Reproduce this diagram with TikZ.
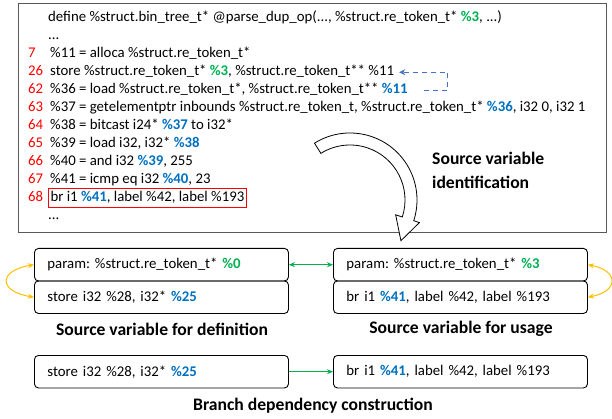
\documentclass[tikz,border=0pt]{standalone}
\usepackage{fontspec}
\setmainfont{Carlito}
\usetikzlibrary{calc,arrows.meta}
\definecolor{cred}{HTML}{FF0000}
\definecolor{cgreen}{HTML}{00B050}
\definecolor{cblue}{HTML}{0070C0}
\definecolor{cdash}{HTML}{4472C4}
\definecolor{cyel}{HTML}{FFC000}
\definecolor{cframe}{HTML}{595959}
\newcommand\grn[1]{\textcolor{cgreen}{\textbf{#1}}}
\newcommand\blu[1]{\textcolor{cblue}{\textbf{#1}}}
\newcommand\codefont{\fontsize{14.8}{18}\selectfont}
\frenchspacing
\begin{document}
\begin{tikzpicture}[x=1pt,y=-1pt,
  code/.style={anchor=base west,inner xsep=2,inner ysep=2.75,text height=10,text depth=3.5,font=\codefont},
  lno/.style={anchor=base west,inner sep=0,text=cred,font=\codefont},
  rbox/.style={draw,rounded corners=4,line width=0.9,minimum width=254,minimum height=32.5,text width=228,inner xsep=13,align=left,anchor=north west,font=\codefont},
  captxt/.style={font=\fontsize{17.6}{24}\selectfont\bfseries},
  garrow/.style={cgreen,line width=0.9,-{Stealth[length=6,width=5]}},
  yarrow/.style={cyel,line width=1,{Stealth[length=6,width=5]}-{Stealth[length=6,width=5]}}]
\useasboundingbox (0,0) rectangle (612,419);
\node[draw=cframe,line width=1.1,minimum width=588,minimum height=229,anchor=north west,inner sep=0] (codebox) at (18,3) {};
% code lines
\node[code] (l0) at (46,21.5) {define \%struct.bin\_tree\_t* @parse\_dup\_op(..., \%struct.re\_token\_t* \grn{\%3}, ...)};
\node[code] (l1) at (46,39.5) {...};
\node[lno] (n7) at (28,57.5) {7};
\node[code] (l7) at (48,57.5) {\%11 = alloca \%struct.re\_token\_t*};
\node[lno] (n26) at (28,75.5) {26};
\node[code] (l26) at (48,75.5) {store \%struct.re\_token\_t* \grn{\%3}, \%struct.re\_token\_t** \%11};
\node[lno] (n62) at (28,93.5) {62};
\node[code] (l62) at (48,93.5) {\%36 = load \%struct.re\_token\_t*, \%struct.re\_token\_t** \blu{\%11}};
\node[lno] (n63) at (28,111.5) {63};
\node[code] (l63) at (48,111.5) {\%37 = getelementptr inbounds \%struct.re\_token\_t, \%struct.re\_token\_t* \blu{\%36}, i32 0, i32 1};
\node[lno] (n64) at (28,129.5) {64};
\node[code] (l64) at (48,129.5) {\%38 = bitcast i24* \blu{\%37} to i32*};
\node[lno] (n65) at (28,147.5) {65};
\node[code] (l65) at (48,147.5) {\%39 = load i32, i32* \blu{\%38}};
\node[lno] (n66) at (28,165.5) {66};
\node[code] (l66) at (48,165.5) {\%40 = and i32 \blu{\%39}, 255};
\node[lno] (n67) at (28,183.5) {67};
\node[code] (l67) at (48,183.5) {\%41 = icmp eq i32 \blu{\%40}, 23};
\node[lno] (n68) at (28,201.5) {68};
\node[code,draw=cred,line width=1] (l68) at (48,201.5) {br i1 \blu{\%41}, label \%42, label \%193};
\node[code] (l69) at (46,219.5) {...};
% dashed arrow
\draw[cdash,line width=1.1,dash pattern=on 5 off 4,-{Stealth[length=6,width=6]}] ([xshift=14]l62.east) -| ([xshift=38]l62.east |- l26.east) -- ([xshift=3]l26.east);
% label
\node[captxt,anchor=west,align=left,inner sep=0] (sid) at (432,170) {Source variable\\identification};
% lower boxes
\node[rbox] (b1) at (34,248) {param: \%struct.re\_token\_t* \grn{\%0}};
\node[rbox] (b2) at (34,280.5) {store i32 \%28, i32* \blu{\%25}};
\node[rbox] (b3) at (333,248) {param: \%struct.re\_token\_t* \grn{\%3}};
\node[rbox] (b4) at (333,280.5) {br i1 \blu{\%41}, label \%42, label \%193};
\node[captxt] (c1) at (162,329) {Source variable for definition};
\node[captxt] (c2) at (461,329) {Source variable for usage};
\draw[cgreen,line width=0.9,{Stealth[length=6,width=5]}-{Stealth[length=6,width=5]}] (b1.east) -- (b3.west);
\draw[yarrow] (b1.west) .. controls +(-36,6) and +(-36,-6) .. (b2.west);
\draw[yarrow] (b3.east) .. controls +(31,6) and +(31,-6) .. (b4.east);
% bottom
\node[rbox] (b5) at (34,355) {store i32 \%28, i32* \blu{\%25}};
\node[rbox] (b6) at (333,355) {br i1 \blu{\%41}, label \%42, label \%193};
\draw[garrow] (b5.east) -- (b6.west);
\node[captxt] (c3) at (313,406) {Branch dependency construction};
% curved arrow
\coordinate (cc) at (350,200);
\draw[fill=white,line width=0.8,line join=miter]
  ($(cc)+(-122:67)$) arc[start angle=-122,end angle=18,radius=67]
  -- ($(cc)+(18:73)$) -- ($(cc)+(18:61)+(108:23)$) -- ($(cc)+(18:48)$)
  -- ($(cc)+(18:55)$) arc[start angle=18,end angle=-122,radius=55] -- cycle;
\end{tikzpicture}
\end{document}
